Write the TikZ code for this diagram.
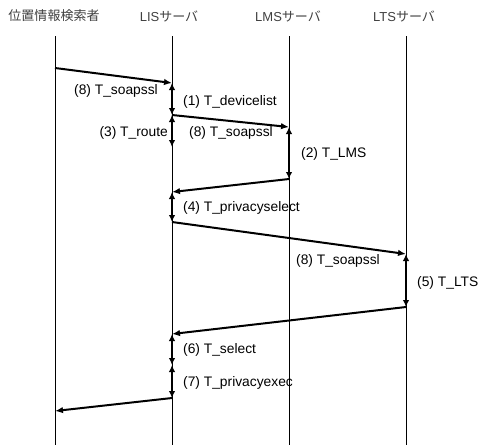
\documentclass[tikz,border=0pt]{standalone}
\usepackage{fontspec}
\setmainfont{Liberation Sans}
\newfontfamily\cjk{Noto Sans CJK JP}
\usetikzlibrary{arrows.meta}
\begin{document}
\begin{tikzpicture}[x=1pt,y=-1pt,
  lifeline/.style={line width=0.8pt},
  msg/.style={line width=2pt,-{Latex[length=8pt,width=6.5pt]}},
  proc/.style={line width=2pt,{Latex[length=7pt,width=6.5pt]}-{Latex[length=7pt,width=6.5pt]}},
  lbl/.style={inner sep=0pt,font=\fontsize{13.8}{16}\selectfont},
  hdr/.style={inner sep=0pt,font=\fontsize{13}{15}\selectfont,text=black!75}]
\useasboundingbox (0,0) rectangle (478,445);
% headers
\node[hdr] (h1) at (54,16) {\cjk 位置情報検索者};
\node[hdr] (h2) at (169,16) {LIS{\cjk サーバ}};
\node[hdr] (h3) at (288,16) {LMS{\cjk サーバ}};
\node[hdr] (h4) at (404,16) {LTS{\cjk サーバ}};
% lifelines
\coordinate (t1) at (55,36); \coordinate (b1) at (55,445);
\coordinate (t2) at (172,36); \coordinate (b2) at (172,445);
\coordinate (t3) at (289,36); \coordinate (b3) at (289,445);
\coordinate (t4) at (406,36); \coordinate (b4) at (406,445);
\draw[lifeline] (t1) -- (b1);
\draw[lifeline] (t2) -- (b2);
\draw[lifeline] (t3) -- (b3);
\draw[lifeline] (t4) -- (b4);
% event points
\coordinate (p1) at (55,68);
\coordinate (p2) at (172,83);
\coordinate (p3) at (172,115);
\coordinate (p4) at (289,127);
\coordinate (p5) at (172,147);
\coordinate (p6) at (289,179);
\coordinate (p7) at (172,192);
\coordinate (p8) at (172,222);
\coordinate (p9) at (406,254);
\coordinate (p10) at (406,307);
\coordinate (p11) at (172,334);
\coordinate (p12) at (172,365);
\coordinate (p13) at (172,398);
\coordinate (p14) at (55,411);
% messages
\draw[msg] (p1) -- (p2);
\draw[proc] (p2) -- (p3);
\draw[msg] (p3) -- (p4);
\draw[proc] (p3) -- (p5);
\draw[proc] (p4) -- (p6);
\draw[msg] (p6) -- (p7);
\draw[proc] (p7) -- (p8);
\draw[msg] (p8) -- (p9);
\draw[proc] (p9) -- (p10);
\draw[msg] (p10) -- (p11);
\draw[proc] (p11) -- (p12);
\draw[proc] (p12) -- (p13);
\draw[msg] (p13) -- (p14);
% labels
\node[lbl,anchor=east] (l1) at (158,91) {(8) T\_soapssl};
\node[lbl,anchor=west] (l2) at (183,102) {(1) T\_devicelist};
\node[lbl,anchor=west] (l3) at (189,133) {(8) T\_soapssl};
\node[lbl,anchor=east] (l4) at (168,133) {(3) T\_route};
\node[lbl,anchor=west] (l5) at (301,154) {(2) T\_LMS};
\node[lbl,anchor=west] (l6) at (183,208) {(4) T\_privacyselect};
\node[lbl,anchor=west] (l7) at (296,261) {(8) T\_soapssl};
\node[lbl,anchor=west] (l8) at (417,283) {(5) T\_LTS};
\node[lbl,anchor=west] (l9) at (183,350) {(6) T\_select};
\node[lbl,anchor=west] (l10) at (183,383) {(7) T\_privacyexec};
\end{tikzpicture}
\end{document}
